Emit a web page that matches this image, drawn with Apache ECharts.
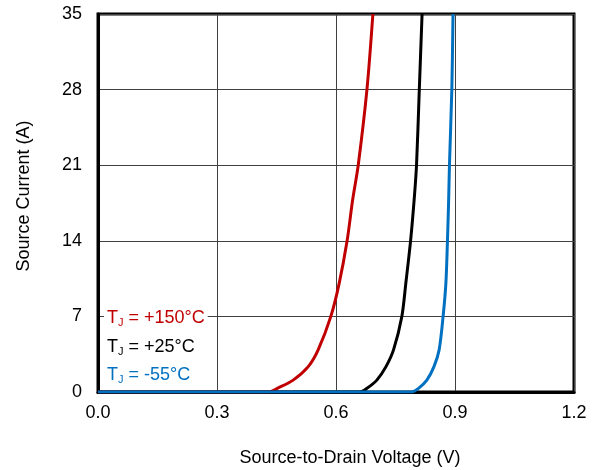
<!DOCTYPE html>
<html><head><meta charset="utf-8">
<script src="https://cdn.jsdelivr.net/npm/echarts@6/dist/echarts.min.js"></script>
<style>html,body{margin:0;padding:0;background:#fff}#c{width:596px;height:470px}</style>
</head><body><div id="c"></div>
<script>
const xTicks = [0.0, 0.3, 0.6, 0.9, 1.2];
const yTicks = [0, 7, 14, 21, 28, 35];

const currentI = [0, 0, 0.34, 1.1, 2.35, 3.9, 7, 10.06, 14, 17.8, 21, 28, 35];
const red150V = [0, 0.43, 0.452, 0.492, 0.530, 0.555, 0.587, 0.608, 0.628, 0.642, 0.656, 0.678, 0.693];
const black25V = [0, 0.66, 0.678, 0.703, 0.726, 0.745, 0.766, 0.776, 0.788, 0.797, 0.803, 0.810, 0.817];
const blueM55V = [0, 0.79, 0.808, 0.829, 0.847, 0.860, 0.870, 0.877, 0.881, 0.884, 0.886, 0.892, 0.895];

const legendLabels = ['+150°C', '+25°C', '-55°C'];

const zip = (a, b) => a.map((v, i) => [v, b[i]]);
const FONT = 'Liberation Sans, Arial, sans-serif';

const chart = echarts.init(document.getElementById('c'), null, {renderer: 'canvas'});
const mkSeries = (name, data, color) => ({
  name, type: 'line', data, showSymbol: false, smooth: 0.3,
  lineStyle: {color, width: 3}, itemStyle: {color}, clip: true, animation: false
});
const rich = (color) => ({
  t: {fill: color, fontSize: 18, fontFamily: FONT},
  s: {fill: color, fontSize: 11, fontFamily: FONT, padding: [9, 0, 0, 0]}
});
const lbl = (i, color, top) => ({
  type: 'text', left: 104, top, z: 100,
  style: {text: '{t|T}{s|J}{t| = ' + legendLabels[i] + '}', rich: rich(color), backgroundColor: '#fff', padding: [0, 3, 0, 3]}
});
chart.setOption({
  animation: false,
  grid: {left: 98, top: 14, right: 22, bottom: 78, show: true, borderColor: '#000', borderWidth: 3, containLabel: false, outerBoundsMode: 'none'},
  xAxis: {
    type: 'value', min: 0, max: 1.2, interval: 0.3,
    name: 'Source-to-Drain Voltage (V)', nameLocation: 'middle', nameGap: 57,
    nameTextStyle: {fontSize: 18, color: '#000', fontFamily: FONT, padding: [0, 0, 0, 28]},
    axisLine: {show: true, lineStyle: {color: '#000', width: 3}},
    axisTick: {show: false},
    axisLabel: {fontSize: 18, color: '#000', fontFamily: FONT, margin: 12, formatter: v => v.toFixed(1)},
    splitLine: {show: true, lineStyle: {color: '#404040', width: 1}}
  },
  yAxis: {
    type: 'value', min: 0, max: 35, interval: 7,
    name: 'Source Current (A)', nameLocation: 'middle', nameGap: 65,
    nameTextStyle: {fontSize: 18, color: '#000', fontFamily: FONT, padding: [0, 0, 0, 14]},
    axisLine: {show: true, lineStyle: {color: '#000', width: 3}},
    axisTick: {show: false},
    axisLabel: {fontSize: 18, color: '#000', fontFamily: FONT, margin: 16},
    splitLine: {show: true, lineStyle: {color: '#404040', width: 1}}
  },
  series: [
    mkSeries('+150', zip(red150V, currentI), '#C00000'),
    mkSeries('+25', zip(black25V, currentI), '#000000'),
    mkSeries('-55', zip(blueM55V, currentI), '#0070C0')
  ],
  graphic: [
    lbl(0, '#C00000', 308),
    lbl(1, '#000000', 337),
    lbl(2, '#0070C0', 365)
  ]
});
</script></body></html>
